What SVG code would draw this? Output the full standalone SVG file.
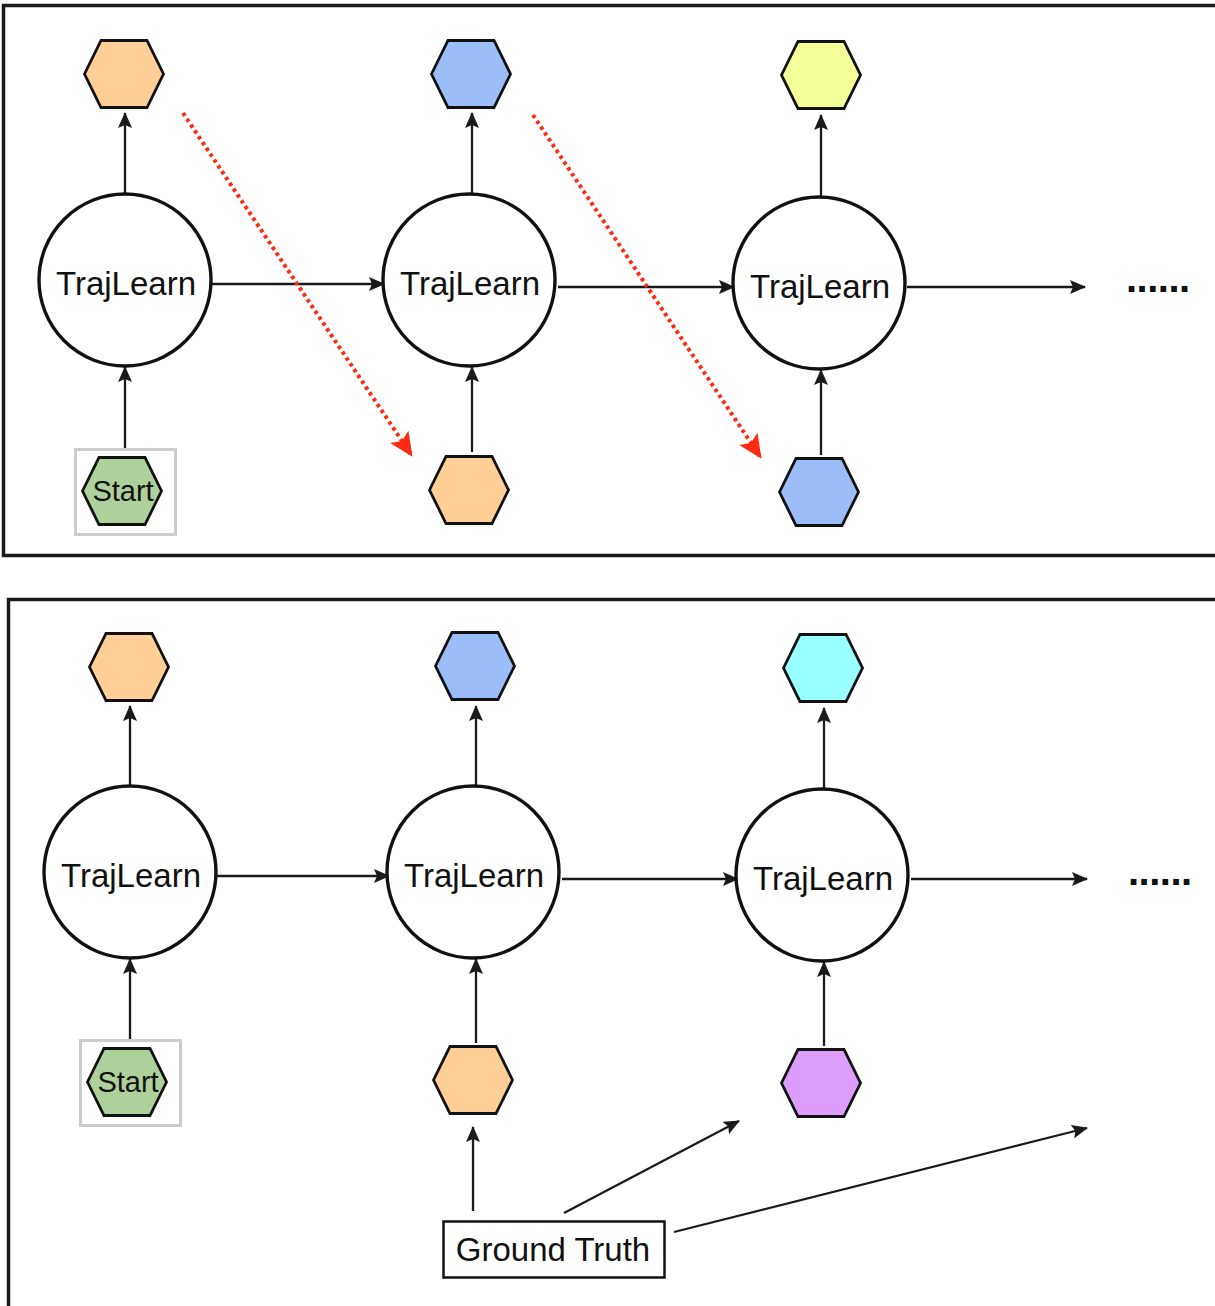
<svg xmlns="http://www.w3.org/2000/svg" xmlns:xlink="http://www.w3.org/1999/xlink" width="1215" height="1306" viewBox="0 0 1215 1306">
<style>
.frame{fill:none;stroke:#1a1a1a;stroke-width:3.5}
.circ{fill:#fff;stroke:#111;stroke-width:3.4}
.hex{stroke:#111;stroke-width:2.8;stroke-linejoin:miter}
.lbl{font-family:"Liberation Sans",Arial,sans-serif;font-size:33px;fill:#111;text-anchor:middle}
.slbl{font-family:"Liberation Sans",Arial,sans-serif;font-size:29px;fill:#111;text-anchor:middle}
.dots{font-family:"Liberation Sans",Arial,sans-serif;font-size:40px;font-weight:bold;fill:#111;letter-spacing:-0.5px}
.conn{fill:none;stroke:#1a1a1a;stroke-width:2.3}
.red{fill:none;stroke:#ff2a12;stroke-width:4;stroke-dasharray:3.5 3.5}
.startbox{fill:#fff;stroke:#cccccc;stroke-width:3}
.gt{fill:#fff;stroke:#111;stroke-width:2.5}
</style>
<defs>
<polygon id="hexshape" points="-39.5,0 -23,-33.5 23,-33.5 39.5,0 23,33.5 -23,33.5"/>
<marker id="ah" markerUnits="userSpaceOnUse" markerWidth="16" markerHeight="14" refX="15" refY="7" orient="auto">
<path d="M0,0 L16,7 L0,14 L3,7 Z" fill="#1a1a1a"/>
</marker>
<marker id="rah" markerUnits="userSpaceOnUse" markerWidth="24" markerHeight="22" refX="23" refY="11" orient="auto">
<path d="M0,0 L24,11 L0,22 L5,11 Z" fill="#ff2a12"/>
</marker>
</defs>
<rect width="1215" height="1306" fill="#fff"/>

<g id="frames">
<path class="frame" d="M1220,5.5 H3.5 V555.5 H1220"/>
<path class="frame" d="M1220,599.5 H8.5 V1312"/>
</g>

<g id="connectors">
<line class="conn" x1="125" y1="194" x2="125" y2="113" marker-end="url(#ah)"/>
<line class="conn" x1="472" y1="194" x2="472" y2="113" marker-end="url(#ah)"/>
<line class="conn" x1="821" y1="197" x2="821" y2="115" marker-end="url(#ah)"/>
<line class="conn" x1="125" y1="449" x2="125" y2="367" marker-end="url(#ah)"/>
<line class="conn" x1="472" y1="452" x2="472" y2="367" marker-end="url(#ah)"/>
<line class="conn" x1="821" y1="455" x2="821" y2="370" marker-end="url(#ah)"/>
<line class="conn" x1="212" y1="284" x2="384" y2="284" marker-end="url(#ah)"/>
<line class="conn" x1="558" y1="287" x2="734" y2="287" marker-end="url(#ah)"/>
<line class="conn" x1="907" y1="287" x2="1085" y2="287" marker-end="url(#ah)"/>
<line class="red" x1="183" y1="113" x2="412" y2="456" marker-end="url(#rah)"/>
<line class="red" x1="533" y1="115" x2="761" y2="458" marker-end="url(#rah)"/>
<line class="conn" x1="130" y1="787" x2="130" y2="706" marker-end="url(#ah)"/>
<line class="conn" x1="476" y1="787" x2="476" y2="706" marker-end="url(#ah)"/>
<line class="conn" x1="824" y1="790" x2="824" y2="708" marker-end="url(#ah)"/>
<line class="conn" x1="130" y1="1040" x2="130" y2="959" marker-end="url(#ah)"/>
<line class="conn" x1="476" y1="1043" x2="476" y2="959" marker-end="url(#ah)"/>
<line class="conn" x1="824" y1="1046" x2="824" y2="962" marker-end="url(#ah)"/>
<line class="conn" x1="217" y1="876" x2="389" y2="876" marker-end="url(#ah)"/>
<line class="conn" x1="562" y1="879" x2="738" y2="879" marker-end="url(#ah)"/>
<line class="conn" x1="911" y1="879" x2="1087" y2="879" marker-end="url(#ah)"/>
<line class="conn" x1="473" y1="1211" x2="473" y2="1127" marker-end="url(#ah)"/>
<line class="conn" x1="564" y1="1213" x2="739" y2="1121" marker-end="url(#ah)"/>
<line class="conn" x1="674" y1="1232" x2="1087" y2="1128" marker-end="url(#ah)"/>
</g>

<g id="t-out1"><use xlink:href="#hexshape" class="hex" fill="#ffcf97" x="124" y="74"/></g>
<g id="t-out2"><use xlink:href="#hexshape" class="hex" fill="#9bbdf8" x="471" y="74"/></g>
<g id="t-out3"><use xlink:href="#hexshape" class="hex" fill="#f4ff9a" x="821" y="75"/></g>
<g id="t-tl1"><circle class="circ" cx="125" cy="280" r="86"/><text class="lbl" x="126" y="295">TrajLearn</text></g>
<g id="t-tl2"><circle class="circ" cx="469" cy="280" r="86"/><text class="lbl" x="470" y="295">TrajLearn</text></g>
<g id="t-tl3"><circle class="circ" cx="819" cy="283" r="86"/><text class="lbl" x="820" y="298">TrajLearn</text></g>
<g id="t-dots"><text class="dots" x="1126" y="292">......</text></g>
<g id="t-start"><rect class="startbox" x="75.5" y="449.5" width="100" height="85"/><use xlink:href="#hexshape" class="hex" fill="#aed09a" x="122" y="491"/><text class="slbl" x="123" y="501">Start</text></g>
<g id="t-in2"><use xlink:href="#hexshape" class="hex" fill="#ffcf97" x="469" y="490"/></g>
<g id="t-in3"><use xlink:href="#hexshape" class="hex" fill="#9bbdf8" x="819" y="492"/></g>

<g id="b-out1"><use xlink:href="#hexshape" class="hex" fill="#ffcf97" x="129" y="667"/></g>
<g id="b-out2"><use xlink:href="#hexshape" class="hex" fill="#9bbdf8" x="475" y="666"/></g>
<g id="b-out3"><use xlink:href="#hexshape" class="hex" fill="#99ffff" x="823" y="668"/></g>
<g id="b-tl1"><circle class="circ" cx="130" cy="872" r="86"/><text class="lbl" x="131" y="887">TrajLearn</text></g>
<g id="b-tl2"><circle class="circ" cx="473" cy="872" r="86"/><text class="lbl" x="474" y="887">TrajLearn</text></g>
<g id="b-tl3"><circle class="circ" cx="822" cy="875" r="86"/><text class="lbl" x="823" y="890">TrajLearn</text></g>
<g id="b-dots"><text class="dots" x="1128" y="885">......</text></g>
<g id="b-start"><rect class="startbox" x="80.5" y="1040.5" width="100" height="85"/><use xlink:href="#hexshape" class="hex" fill="#aed09a" x="127" y="1082"/><text class="slbl" x="128" y="1092">Start</text></g>
<g id="b-in2"><use xlink:href="#hexshape" class="hex" fill="#ffcf97" x="473" y="1080"/></g>
<g id="b-in3"><use xlink:href="#hexshape" class="hex" fill="#dd9dfd" x="821" y="1083"/></g>
<g id="ground-truth"><rect class="gt" x="443.5" y="1221.5" width="221" height="56"/><text class="lbl" x="553" y="1261">Ground Truth</text></g>
</svg>
